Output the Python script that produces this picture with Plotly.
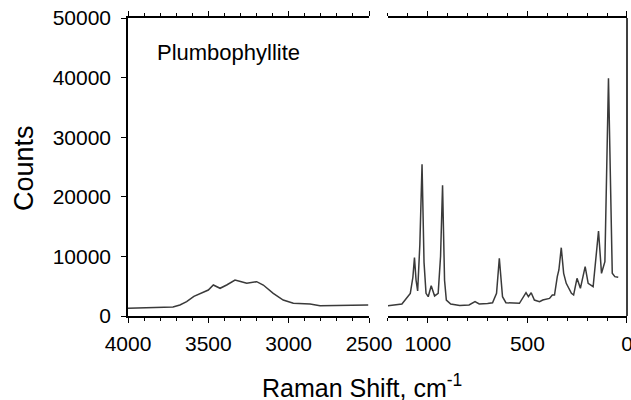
import plotly.graph_objects as go

# High-wavenumber region (cm-1) and counts
hi_shift = [4000, 3900, 3800, 3720, 3677, 3635, 3590, 3552, 3500, 3469, 3427, 3386, 3334,
            3300, 3261, 3199, 3158, 3096, 3034, 2971, 2867, 2805, 2700, 2600, 2505]
hi_counts = [1290, 1320, 1380, 1500, 1850, 2400, 3300, 3800, 4360, 5200, 4650, 5200, 6040,
             5800, 5480, 5760, 5200, 3800, 2680, 2130, 2010, 1730, 1800, 1820, 1850]

# Low-wavenumber region (cm-1) and counts
lo_shift = [1205, 1130, 1088, 1075, 1067, 1059, 1051, 1040, 1029, 1019, 1009, 998, 983, 966,
            948, 936, 926, 916, 907, 885, 840, 793, 763, 742, 700, 675, 655, 641, 625, 608,
            540, 507, 495, 481, 465, 439, 423, 389, 375, 364, 350, 342, 330, 318, 305, 279,
            268, 251, 234, 210, 195, 170, 143, 128, 111, 93, 74, 61, 44]
lo_counts = [1680, 2010, 3800, 6500, 9790, 6000, 4200, 12000, 25450, 9000, 3800, 3240, 5080, 3360,
             3800, 10000, 21930, 6000, 2680, 2010, 1750, 1850, 2400, 2010, 2100, 2230, 3800, 9680, 3240, 2230,
             2130, 3910, 3240, 3910, 2680, 2400, 2680, 2960, 3520, 3520, 6600, 7720, 11460, 7160, 5480, 3800,
             3520, 6320, 4650, 8270, 5480, 4920, 14260, 7160, 9110, 39880, 7160, 6600, 6490]

y_ticks = [0, 10000, 20000, 30000, 40000, 50000]
y_labels = ["0", "10000", "20000", "30000", "40000", "50000"]
left_ticks = [4000, 3500, 3000, 2500]
right_ticks = [1000, 500, 0]

FONT = "Liberation Sans, Arial, sans-serif"
LINE = "#3a3a3a"

fig = go.Figure()
fig.add_trace(go.Scatter(x=hi_shift, y=hi_counts, mode="lines",
                         line=dict(color=LINE, width=1.5), xaxis="x", yaxis="y",
                         showlegend=False))
fig.add_trace(go.Scatter(x=lo_shift, y=lo_counts, mode="lines",
                         line=dict(color=LINE, width=1.5), xaxis="x2", yaxis="y",
                         showlegend=False))

xcommon = dict(showline=True, linecolor="black", linewidth=1.5, mirror="ticks",
               ticks="outside", ticklen=5, tickwidth=1, tickcolor="black",
               showgrid=False, zeroline=False, ticklabelstandoff=3, automargin=False,
               ticklabeloverflow="allow",
               tickfont=dict(family=FONT, size=21, color="black"),
               minor=dict(dtick=100, ticks="outside", ticklen=3, tickcolor="black", showgrid=False))

fig.update_layout(
    width=631, height=400, autosize=False,
    margin=dict(l=128, r=4, t=18, b=84),
    paper_bgcolor="white", plot_bgcolor="white",
    xaxis=dict(domain=[0, 0.483], range=[4000, 2500], tickvals=left_ticks, anchor="y", **xcommon),
    xaxis2=dict(domain=[0.521, 1.0], range=[1200, 0], tickvals=right_ticks, anchor="y", **xcommon),
    yaxis=dict(range=[0, 50000], tickvals=y_ticks, ticktext=y_labels, showline=True,
               linecolor="black", linewidth=1.5, automargin=False,
               ticks="outside", ticklen=5, tickcolor="black", showgrid=False, zeroline=False,
               ticklabelstandoff=6, tickfont=dict(family=FONT, size=21, color="black"),
               anchor="x"),
    shapes=[dict(type="line", xref="paper", yref="paper", x0=1, x1=1, y0=0, y1=1,
                 line=dict(color="black", width=1.5))],
    annotations=[
        dict(text="Plumbophyllite", xref="paper", yref="paper", x=0.054, y=0.883,
             xanchor="left", yanchor="middle", showarrow=False,
             font=dict(family=FONT, size=22, color="black")),
        dict(text="Counts", xref="paper", yref="paper", x=-0.208, y=0.497, textangle=-90,
             xanchor="center", yanchor="middle", showarrow=False,
             font=dict(family=FONT, size=27, color="black")),
        dict(text="Raman Shift, cm<sup>-1</sup>", xref="paper", yref="paper", x=0.469, y=-0.235,
             xanchor="center", yanchor="middle", showarrow=False,
             font=dict(family=FONT, size=25, color="black")),
    ],
)

post = ("document.body.style.margin='0px';"
        "document.body.style.padding='0px';"
        "document.body.style.overflow='hidden';")

fig.write_html("out.html", post_script=post, config={"displayModeBar": False})
